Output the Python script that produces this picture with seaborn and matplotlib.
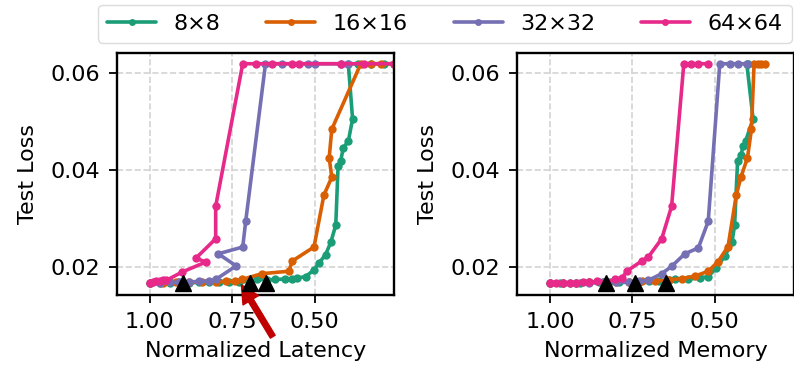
import matplotlib
matplotlib.use('Agg')
import matplotlib.pyplot as plt
import numpy as np
import pandas as pd
import seaborn as sns

sns.set_theme(style='ticks')
plt.rcParams['font.family'] = ['DejaVu Sans']
plt.rcParams['text.color'] = 'black'
plt.rcParams['axes.labelcolor'] = 'black'
plt.rcParams['xtick.color'] = 'black'
plt.rcParams['ytick.color'] = 'black'

sizes = ['8×8', '16×16', '32×32', '64×64']
palette = dict(zip(sizes, ['#1b9e77', '#d95f02', '#7570b3', '#e7298a']))

# ── left panel: latency ───────────────────────────────────────────────
lat_8 = [1.00, 0.97, 0.94, 0.91, 0.88, 0.85, 0.82, 0.79, 0.76, 0.73,
         0.70, 0.675, 0.645, 0.62, 0.59, 0.57, 0.553, 0.527, 0.502, 0.487,
         0.467, 0.451, 0.436, 0.429, 0.421, 0.413, 0.398, 0.385, 0.398, 0.37,
         0.33, 0.29, 0.26]
lat_loss_8 = [0.0167, 0.0167, 0.0167, 0.0168, 0.0167, 0.0168, 0.0168, 0.0168, 0.0169, 0.0169,
              0.0170, 0.0174, 0.0173, 0.0174, 0.0175, 0.0175, 0.0177, 0.0180, 0.0194, 0.0208,
              0.0225, 0.0251, 0.0286, 0.0408, 0.0419, 0.0446, 0.0459, 0.0505, 0.0619, 0.0619,
              0.0619, 0.0619, 0.0619]
lat_16 = [1.00, 0.96, 0.92, 0.88, 0.84, 0.80, 0.77, 0.74, 0.72, 0.66,
          0.578, 0.568, 0.502, 0.472, 0.448, 0.456, 0.448, 0.36, 0.33, 0.30, 0.26]
lat_loss_16 = [0.0167, 0.0167, 0.0168, 0.0168, 0.0169, 0.0169, 0.0170, 0.0170, 0.0174, 0.0186,
               0.0191, 0.0212, 0.0241, 0.0348, 0.0385, 0.0425, 0.0484, 0.0619, 0.0619, 0.0619, 0.0619]
lat_32 = [1.00, 0.97, 0.94, 0.91, 0.88, 0.85, 0.82, 0.80, 0.738, 0.792,
          0.718, 0.709, 0.649, 0.60, 0.52, 0.50, 0.42, 0.40]
lat_loss_32 = [0.0167, 0.0167, 0.0168, 0.0168, 0.0169, 0.0170, 0.0171, 0.0174, 0.0202, 0.0227,
               0.0241, 0.0294, 0.0619, 0.0619, 0.0619, 0.0619, 0.0619, 0.0619]
lat_64 = [1.00, 0.99, 0.98, 0.97, 0.96, 0.95, 0.903, 0.83, 0.86, 0.80,
          0.80, 0.718, 0.679, 0.629, 0.568, 0.548, 0.42, 0.35, 0.26]
lat_loss_64 = [0.0167, 0.0168, 0.0171, 0.0170, 0.0173, 0.0172, 0.0189, 0.0210, 0.0218, 0.0258,
               0.0325, 0.0619, 0.0619, 0.0619, 0.0619, 0.0619, 0.0619, 0.0619, 0.0619]

# ── right panel: memory ───────────────────────────────────────────────
mem_8 = [1.00, 0.97, 0.94, 0.91, 0.88, 0.85, 0.82, 0.79, 0.76, 0.73,
         0.70, 0.67, 0.64, 0.621, 0.58, 0.545, 0.52, 0.495, 0.470, 0.448,
         0.440, 0.431, 0.421, 0.414, 0.407, 0.384, 0.403, 0.40]
mem_loss_8 = [0.0167, 0.0167, 0.0167, 0.0167, 0.0168, 0.0168, 0.0168, 0.0168, 0.0169, 0.0169,
              0.0170, 0.0171, 0.0172, 0.0174, 0.0175, 0.0177, 0.0180, 0.0198, 0.0222, 0.0251,
              0.0286, 0.0419, 0.0430, 0.0450, 0.0459, 0.0505, 0.0619, 0.0619]
mem_16 = [1.00, 0.96, 0.92, 0.88, 0.84, 0.80, 0.76, 0.72, 0.68, 0.64,
          0.60, 0.56, 0.52, 0.49, 0.46, 0.435, 0.421, 0.401, 0.389, 0.381,
          0.37, 0.36, 0.349]
mem_loss_16 = [0.0167, 0.0167, 0.0167, 0.0168, 0.0168, 0.0168, 0.0169, 0.0170, 0.0171, 0.0173,
               0.0176, 0.0181, 0.0191, 0.0211, 0.0242, 0.0348, 0.0385, 0.0425, 0.0484, 0.0619,
               0.0619, 0.0619, 0.0619]
mem_32 = [1.00, 0.96, 0.92, 0.88, 0.84, 0.80, 0.76, 0.73, 0.702, 0.661,
          0.631, 0.591, 0.550, 0.520, 0.485, 0.455, 0.43, 0.401]
mem_loss_32 = [0.0167, 0.0167, 0.0167, 0.0167, 0.0168, 0.0168, 0.0168, 0.0170, 0.0172, 0.0186,
               0.0201, 0.0227, 0.0239, 0.0294, 0.0619, 0.0619, 0.0619, 0.0619]
mem_64 = [1.00, 0.98, 0.96, 0.94, 0.92, 0.90, 0.88, 0.858, 0.83, 0.802,
          0.78, 0.767, 0.722, 0.702, 0.661, 0.631, 0.594, 0.571, 0.55, 0.522]
mem_loss_64 = [0.0167, 0.0167, 0.0167, 0.0167, 0.0167, 0.0168, 0.0168, 0.0170, 0.0168, 0.0175,
               0.0178, 0.0191, 0.0212, 0.0220, 0.0258, 0.0325, 0.0619, 0.0619, 0.0619, 0.0619]

# chosen configs (black triangles)
best_lat = [0.90, 0.695, 0.648]
best_mem = [0.831, 0.742, 0.649]
best_loss = [0.0167, 0.0167, 0.0167]


def to_long(xs, ys):
    parts = [pd.DataFrame({'x': x, 'loss': y, 'size': s}) for s, x, y in zip(sizes, xs, ys)]
    return pd.concat(parts, ignore_index=True)


df_lat = to_long([lat_8, lat_16, lat_32, lat_64], [lat_loss_8, lat_loss_16, lat_loss_32, lat_loss_64])
df_mem = to_long([mem_8, mem_16, mem_32, mem_64], [mem_loss_8, mem_loss_16, mem_loss_32, mem_loss_64])

fig = plt.figure(figsize=(7.94, 3.66), dpi=100)
ax1 = fig.add_axes([0.147, 0.194, 0.349, 0.661])
ax2 = fig.add_axes([0.651, 0.194, 0.349, 0.661])

for ax, d, best, xlabel in [(ax1, df_lat, best_lat, 'Normalized Latency'),
                            (ax2, df_mem, best_mem, 'Normalized Memory')]:
    sns.lineplot(data=d, x='x', y='loss', hue='size', hue_order=sizes, palette=palette,
                 sort=False, estimator=None, marker='o', markersize=6,
                 markeredgewidth=0, linewidth=2.6, ax=ax)
    ax.plot(best, best_loss, ls='none', marker='^', color='black', ms=12, zorder=5)
    ax.set_xlim(1.10, 0.26)
    ax.set_ylim(0.0142, 0.0641)
    ax.set_xticks([1.00, 0.75, 0.50])
    ax.set_xticklabels(['1.00', '0.75', '0.50'])
    ax.set_yticks([0.02, 0.04, 0.06])
    ax.set_yticklabels(['0.02', '0.04', '0.06'])
    ax.grid(True, ls='--', color='#d3d3d3', lw=1.2)
    ax.set_axisbelow(True)
    ax.tick_params(labelsize=16, width=1.3, length=6, pad=6, color='black')
    for sp in ax.spines.values():
        sp.set_color('black')
        sp.set_linewidth(1.7)
    ax.set_xlabel(xlabel, fontsize=16, labelpad=7)
    ax.set_ylabel('Test Loss', fontsize=16, labelpad=9)
    ax.get_legend().remove()

ax1.annotate('', xy=(0.722, 0.0163), xytext=(0.627, 0.0056),
             arrowprops=dict(color='#c00000', width=4, headwidth=13, headlength=13),
             annotation_clip=False)

handles, labels = ax1.get_legend_handles_labels()
for h in handles:
    h.set_markersize(5)
fig.legend(handles, labels, loc='upper center', bbox_to_anchor=(0.5605, 0.987), ncol=4,
           fontsize=16, frameon=True, edgecolor='#d3d3d3', handlelength=2.2,
           handletextpad=0.8, columnspacing=2.05, fancybox=True, borderpad=0.4,
           borderaxespad=0)

fig.savefig('out.png', dpi=100)
